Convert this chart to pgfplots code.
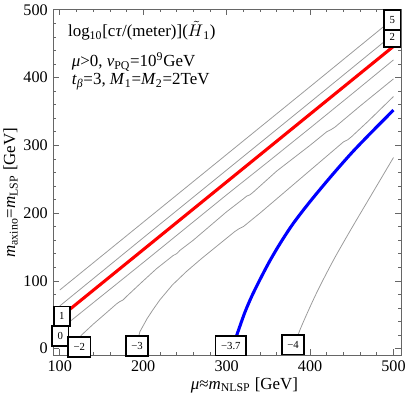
\documentclass[border=0pt]{standalone}
\usepackage{fontspec}
\setmainfont{Liberation Serif}
\usepackage{pgfplots}
\pgfplotsset{compat=1.18}
\tikzset{lbl/.style={draw=black, line width=1.1pt, fill=white, font=\fontsize{7}{8}\selectfont,
     inner xsep=3.5pt, inner ysep=0pt, minimum height=12.8pt, minimum width=10.2pt}}
\begin{document}
\begin{tikzpicture}
\begin{axis}[
  scale only axis, width=226pt, height=225pt,
  xmin=92, xmax=509, ymin=-10, ymax=501,
  xtick={100,200,300,400,500}, ytick={0,100,200,300,400,500},
  minor x tick num=4, minor y tick num=4,
  tick align=inside, major tick length=4pt, minor tick length=2.2pt,
  axis line style={black!60, line width=0.5pt},
  tick style={black!60, line width=0.4pt},
  /pgf/number format/assume math mode=true,
  ticklabel style={font=\fontsize{10.5}{12}\selectfont},
  label style={font=\fontsize{11}{13}\selectfont},
  xlabel={\textit{μ}≈\textit{m}\textsubscript{NLSP} [GeV]},
  ylabel={\textit{m}\textsubscript{axino}=\textit{m}\textsubscript{LSP} [GeV]},
  xlabel style={at={(axis description cs:0.55,0)}, anchor=base, yshift=-22pt},
  ylabel style={at={(axis description cs:-0.109,0.47)}, anchor=base},
  clip=false,
]
% contour 5
\addplot[black!40, line width=0.5pt] coordinates {(100,86.5) (200,186.5) (300,286.5) (400,386.5) (500,487)};
% contour 2
\addplot[black!40, line width=0.5pt] coordinates {(100,63) (200,163.5) (300,263.5) (400,363.5) (500,464)};
% contour 0
\addplot[black!40, line width=0.5pt] coordinates {(100,28) (150,77.5) (200,127) (250,177) (300,227) (350,276) (400,325.5) (450,375.5) (500,426)};
% contour -2
\addplot[black!40, line width=0.5pt] coordinates {(114,0) (120,10) (126,20) (140,36) (155,52) (168,66) (172,69.5) (176,72) (180,77) (200,100) (216,118) (236,137.5) (240,140) (244,145) (260,160) (280,181) (300,202) (320,221) (324,225) (328,227) (332,231) (360,262) (380,281) (400,300) (420,320) (425,323) (430,327) (460,358) (480,378) (500,398)};
% contour -3
\addplot[black!40, line width=0.5pt] coordinates {(190,0) (193,10) (196,25) (205,45) (212,58) (220,72) (235,94) (252,114) (270,133) (290,153) (310,173) (315,177) (320,180) (340,200) (360,221) (380,242) (400,263) (420,284) (440,305) (445,308) (450,313) (470,336) (500,372)};
% contour -4
\addplot[black!40, line width=0.5pt, smooth] coordinates {(378,0) (383,12) (388,28) (395,48) (405,75) (415,100) (430,135) (450,178) (475,230) (500,282)};
% red contour 1
\addplot[red, line width=2pt] coordinates {(100,46) (500,446)};
% blue contour -3.7
\addplot[blue, line width=2pt, smooth] coordinates {(307,0) (310,12) (315,30) (322,54) (330,77) (340,102) (352,130) (365,157) (380,185) (400,217) (425,254) (450,289) (475,321) (500,352)};
% labels
\node[lbl] at (axis cs:102.4,47.6) {1};
\node[lbl] at (axis cs:100.6,18.6) {0};
\node[lbl] at (axis cs:123.4,2.5) {−2};
\node[lbl] at (axis cs:192.6,4) {−3};
\node[lbl] at (axis cs:305,4.4) {−3.7};
\node[lbl] at (axis cs:379.7,5.9) {−4};
\node[lbl] at (axis cs:498.7,460) {2};
\node[lbl] at (axis cs:498.7,484.6) {5};
% annotation
\node[anchor=base west, font=\fontsize{11}{13}\selectfont, inner sep=0pt] at (axis cs:109.6,460) {log\textsubscript{10}[c\textit{τ}/(meter)]($\tilde{H}$\textsubscript{1})};
\node[anchor=base west, font=\fontsize{11}{13}\selectfont, inner sep=0pt] at (axis cs:114,416) {\textit{μ}>0, \textit{v}\textsubscript{PQ}=10\textsuperscript{9}GeV};
\node[anchor=base west, font=\fontsize{11}{13}\selectfont, inner sep=0pt] at (axis cs:114,389) {\textit{t}\textsubscript{\textit{β}}=3, \textit{M}\textsubscript{1}=\textit{M}\textsubscript{2}=2TeV};
\end{axis}
\pgfresetboundingbox
\path[use as bounding box] ([shift={(-34.5pt,-30pt)}]current axis.south west) rectangle ([shift={(3.9pt,5.9pt)}]current axis.north east);
\end{tikzpicture}
\end{document}
